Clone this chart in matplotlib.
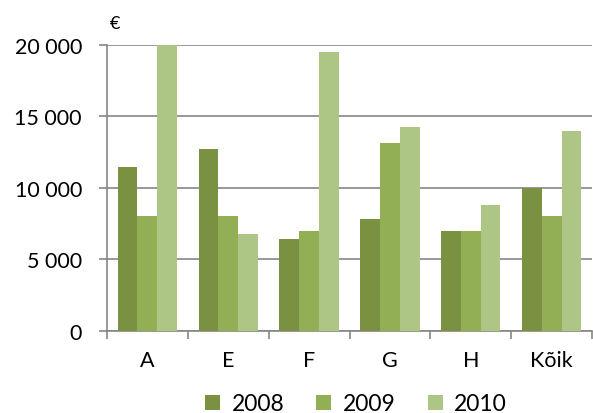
import matplotlib
matplotlib.use("Agg")
import matplotlib.pyplot as plt
import numpy as np

categories = ["A", "E", "F", "G", "H", "Kõik"]
years = ["2008", "2009", "2010"]
values_2008 = [11450, 12700, 6450, 7850, 7000, 10000]
values_2009 = [8000, 8000, 7000, 13100, 7000, 8000]
values_2010 = [20000, 6750, 19500, 14250, 8800, 13950]
yticks = [0, 5000, 10000, 15000, 20000]
ytick_labels = ["0", "5 000", "10 000", "15 000", "20 000"]

colors = ["#7A9142", "#92AF55", "#ADC686"]
grid_color = "#868686"

plt.rcParams["font.family"] = ["Lato", "DejaVu Sans"]

fig = plt.figure(figsize=(5.93, 4.14), dpi=100)
ax = fig.add_axes([0.1804, 0.198, 0.818, 0.692])

x = np.arange(len(categories))
width = 0.245
for i, (vals, col, lab) in enumerate(zip([values_2008, values_2009, values_2010], colors, years)):
    ax.bar(x + (i - 1) * width, vals, width, color=col, label=lab, zorder=3)

ax.set_xlim(-0.5, len(categories) - 0.5)
ax.set_ylim(0, 20000)
ax.set_yticks(yticks)
ax.set_yticklabels(ytick_labels, fontsize=15.5)
ax.yaxis.grid(True, color=grid_color, linewidth=1.2, zorder=0)
ax.tick_params(axis="y", length=6, width=1.2, color=grid_color, pad=12)

# category boundary ticks, labels at centres
ax.set_xticks(np.arange(-0.5, len(categories)), minor=False)
ax.set_xticklabels([])
ax.set_xticks(x, minor=True)
ax.set_xticklabels(categories, minor=True, fontsize=15.5)
ax.tick_params(axis="x", which="major", length=6, width=1.2, color=grid_color)
ax.tick_params(axis="x", which="minor", length=0, pad=14)

for side in ["top", "right"]:
    ax.spines[side].set_visible(False)
for side in ["left", "bottom"]:
    ax.spines[side].set_color(grid_color)
    ax.spines[side].set_linewidth(1.2)

fig.text(115 / 593, 1 - 24 / 414, "€", fontsize=13, ha="center", va="center")

fig.legend(loc="center", bbox_to_anchor=(356 / 593, 1 - 405 / 414), ncol=3, frameon=False,
           fontsize=16.5, handlelength=0.65, handleheight=0.65, columnspacing=1.4,
           handletextpad=0.5, borderpad=0)

fig.savefig("out.png", dpi=100)
